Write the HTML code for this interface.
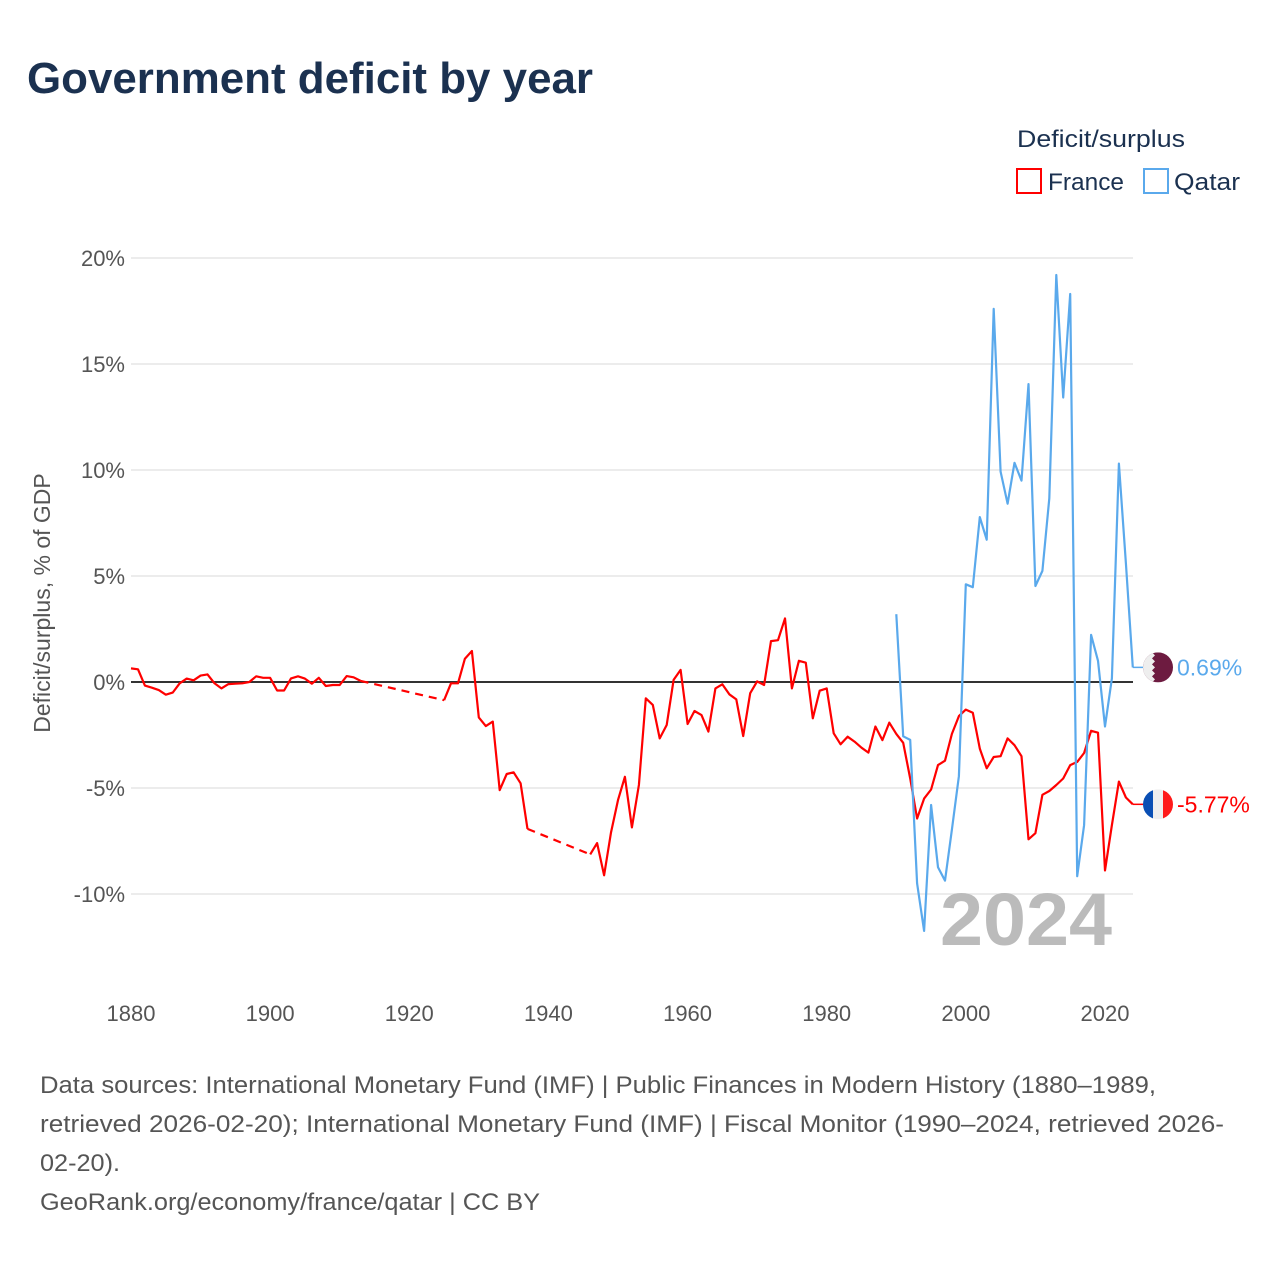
<!DOCTYPE html>
<html><head><meta charset="utf-8"><style>
html,body{margin:0;padding:0;background:#fff;}
svg{display:block;font-family:"Liberation Sans",sans-serif;}
</style></head><body>
<svg id="chart" width="1280" height="1280" viewBox="0 0 1280 1280" xmlns="http://www.w3.org/2000/svg">
<text x="27" y="93" font-size="44" font-weight="bold" fill="#1b3150" textLength="566" lengthAdjust="spacingAndGlyphs">Government deficit by year</text>
<g>
<text x="1017" y="147" font-size="24" fill="#1b3150" textLength="168" lengthAdjust="spacingAndGlyphs">Deficit/surplus</text>
<rect x="1017" y="169" width="24" height="24" fill="none" stroke="#ff0000" stroke-width="2"/>
<text x="1048" y="190" font-size="24" fill="#1b3150" textLength="76" lengthAdjust="spacingAndGlyphs">France</text>
<rect x="1144" y="169" width="24" height="24" fill="none" stroke="#5aa9ec" stroke-width="2"/>
<text x="1174" y="190" font-size="24" fill="#1b3150" textLength="66" lengthAdjust="spacingAndGlyphs">Qatar</text>
</g>
<g id="grid"></g>
<g id="yticks"></g>
<g id="xticks"></g>
<text transform="translate(50,603) rotate(-90)" text-anchor="middle" font-size="23" fill="#555">Deficit/surplus, % of GDP</text>
<text x="1112" y="945" text-anchor="end" font-size="74" font-weight="bold" fill="#bbbbbb" textLength="172" lengthAdjust="spacingAndGlyphs">2024</text>
<g id="series"></g>
<g id="ends"></g>
<g font-size="24" fill="#555">
<text x="40" y="1093" textLength="1116" lengthAdjust="spacingAndGlyphs">Data sources: International Monetary Fund (IMF) | Public Finances in Modern History (1880–1989,</text>
<text x="40" y="1132" textLength="1184" lengthAdjust="spacingAndGlyphs">retrieved 2026-02-20); International Monetary Fund (IMF) | Fiscal Monitor (1990–2024, retrieved 2026-</text>
<text x="40" y="1171" textLength="80" lengthAdjust="spacingAndGlyphs">02-20).</text>
<text x="40" y="1210" textLength="500" lengthAdjust="spacingAndGlyphs">GeoRank.org/economy/france/qatar | CC BY</text>
</g>
</svg>
<script>
const yTicks=[20,15,10,5,0,-5,-10];
const xTicks=[1880,1900,1920,1940,1960,1980,2000,2020];
const franceYears=[1880,1881,1882,1883,1884,1885,1886,1887,1888,1889,1890,1891,1892,1893,1894,1895,1896,1897,1898,1899,1900,1901,1902,1903,1904,1905,1906,1907,1908,1909,1910,1911,1912,1913,
1925,1926,1927,1928,1929,1930,1931,1932,1933,1934,1935,1936,1937,
1946,1947,1948,1949,1950,1951,1952,1953,1954,1955,1956,1957,1958,1959,1960,1961,1962,1963,1964,1965,1966,1967,1968,1969,1970,1971,1972,1973,1974,1975,1976,1977,1978,1979,1980,1981,1982,1983,1984,1985,1986,1987,1988,1989,1990,1991,1992,1993,1994,1995,1996,1997,1998,1999,2000,2001,2002,2003,2004,2005,2006,2007,2008,2009,2010,2011,2012,2013,2014,2015,2016,2017,2018,2019,2020,2021,2022,2023,2024];
const franceValues=[0.64,0.6,-0.17,-0.27,-0.38,-0.6,-0.5,-0.06,0.16,0.08,0.3,0.36,-0.06,-0.3,-0.1,-0.08,-0.06,0,0.27,0.2,0.2,-0.4,-0.4,0.17,0.27,0.16,-0.08,0.2,-0.19,-0.14,-0.14,0.28,0.22,0.05,
-0.86,-0.06,-0.06,1.1,1.46,-1.67,-2.08,-1.87,-5.1,-4.34,-4.26,-4.78,-6.93,
-8.13,-7.6,-9.12,-7.1,-5.57,-4.47,-6.86,-4.86,-0.77,-1.08,-2.66,-2.03,0.1,0.57,-1.98,-1.37,-1.56,-2.34,-0.3,-0.11,-0.58,-0.82,-2.55,-0.53,0.03,-0.14,1.93,1.97,3.0,-0.3,1.0,0.91,-1.71,-0.41,-0.3,-2.42,-2.94,-2.58,-2.81,-3.1,-3.33,-2.1,-2.74,-1.92,-2.45,-2.87,-4.55,-6.44,-5.5,-5.07,-3.92,-3.71,-2.45,-1.61,-1.3,-1.45,-3.14,-4.07,-3.54,-3.5,-2.66,-2.98,-3.5,-7.42,-7.13,-5.32,-5.14,-4.86,-4.55,-3.92,-3.77,-3.35,-2.3,-2.39,-8.89,-6.75,-4.7,-5.45,-5.77];
const qatarYears=[1990,1991,1992,1993,1994,1995,1996,1997,1998,1999,2000,2001,2002,2003,2004,2005,2006,2007,2008,2009,2010,2011,2012,2013,2014,2015,2016,2017,2018,2019,2020,2021,2022,2023,2024];
const qatarValues=[3.2,-2.56,-2.73,-9.5,-11.74,-5.8,-8.74,-9.37,-6.96,-4.44,4.61,4.47,7.78,6.71,17.6,9.92,8.41,10.34,9.5,14.05,4.53,5.24,8.66,19.2,13.42,18.3,-9.16,-6.75,2.22,1.0,-2.1,0.17,10.3,5.6,0.69];

const NS="http://www.w3.org/2000/svg";
const X=y=>131+(y-1880)*6.957;
const Y=v=>682-v*21.2;
function mk(tag,attrs,parent){const e=document.createElementNS(NS,tag);for(const k in attrs)e.setAttribute(k,attrs[k]);parent.appendChild(e);return e;}
const grid=document.getElementById('grid'),yt=document.getElementById('yticks'),xt=document.getElementById('xticks'),ser=document.getElementById('series'),ends=document.getElementById('ends');
yTicks.forEach(t=>{
  if(t!==0){const l=mk('line',{x1:131,x2:1133,y1:Y(t),y2:Y(t),stroke:'#e6e6e6','stroke-width':1.5},grid);
  
  }
  const tx=mk('text',{x:125,y:Y(t)+8,'text-anchor':'end','font-size':22,fill:'#555'},yt);
  
  
  tx.textContent=t+'%';
});
xTicks.forEach(t=>{
  const tx=mk('text',{x:X(t),y:1021,'text-anchor':'middle','font-size':22,fill:'#555'},xt);
  
  
  tx.textContent=t;
});
const zl=mk('line',{x1:131,x2:1133,y1:Y(0),y2:Y(0),stroke:'#333','stroke-width':2},grid);



function draw(years,vals,color,name){
  let solid='',dash='';
  for(let i=0;i<years.length;i++){
    const px=X(years[i]).toFixed(1),py=Y(vals[i]).toFixed(1);
    if(i===0||years[i]-years[i-1]>1){
      if(i>0)dash+='M'+X(years[i-1]).toFixed(1)+','+Y(vals[i-1]).toFixed(1)+'L'+px+','+py;
      solid+='M'+px+','+py;
    } else solid+='L'+px+','+py;
  }
  const p=mk('path',{d:solid,fill:'none',stroke:color,'stroke-width':2.2,'stroke-linejoin':'round'},ser);
  
  
  if(dash){const d=mk('path',{d:dash,fill:'none',stroke:color,'stroke-width':2.2,'stroke-dasharray':'8,6'},ser);
  
  }
  const lx=X(years[years.length-1]),ly=Y(vals[vals.length-1]);
  const c=mk('line',{x1:lx,x2:1145,y1:ly,y2:ly,stroke:color,'stroke-width':1.5},ser);
  
  
}
draw(franceYears,franceValues,'#ff0000','france');
draw(qatarYears,qatarValues,'#5aa9ec','qatar');

const qv=qatarValues[qatarValues.length-1],fv=franceValues[franceValues.length-1];
const qy=Y(qv),fy=Y(fv);
const defs=mk('defs',{},ends);
const cp1=mk('clipPath',{id:'cq'},defs);mk('circle',{cx:1158,cy:qy,r:15},cp1);
const cp2=mk('clipPath',{id:'cf'},defs);mk('circle',{cx:1158,cy:fy,r:15},cp2);
const qf=mk('g',{'clip-path':'url(#cq)'},ends);


mk('rect',{x:1143,y:qy-15,width:30,height:30,fill:'#6d1b40'},qf);
mk('path',{d:`M1143,${qy-15}h9l3,3l-3,3l3,3l-3,3l3,3l-3,3l3,3l-3,3l3,3l-3,3h-9z`,fill:'#eeeeee'},qf);
const ff=mk('g',{'clip-path':'url(#cf)'},ends);


mk('rect',{x:1143,y:fy-15,width:10,height:30,fill:'#0a4fb4'},ff);
mk('rect',{x:1153,y:fy-15,width:10,height:30,fill:'#eeeeee'},ff);
mk('rect',{x:1163,y:fy-15,width:10,height:30,fill:'#ff1a1a'},ff);
const qt=mk('text',{x:1177,y:qy+8,'font-size':23,fill:'#5aa9ec'},ends);


qt.textContent=qv.toFixed(2)+'%';
const ft=mk('text',{x:1177,y:fy+8,'font-size':23,fill:'#ff0000'},ends);


ft.textContent=fv.toFixed(2)+'%';
</script>
</body></html>
